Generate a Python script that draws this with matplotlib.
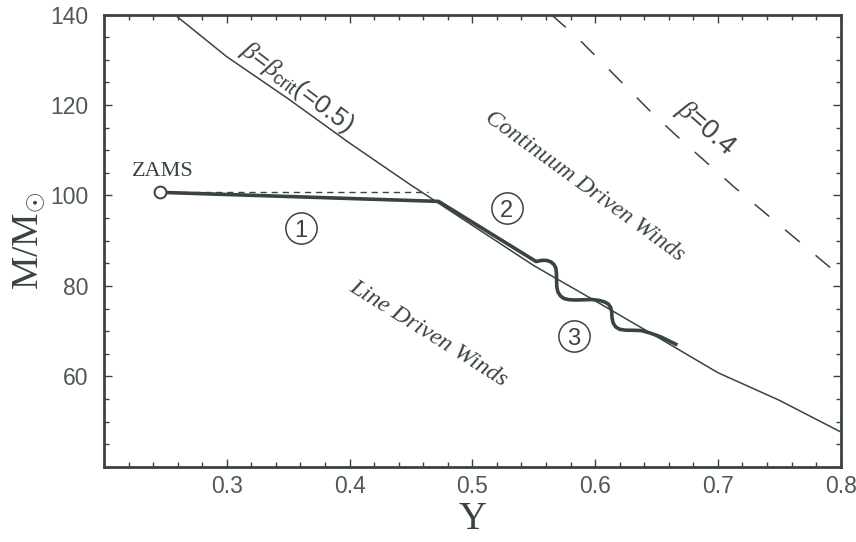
import numpy as np
import matplotlib
matplotlib.use("Agg")
import matplotlib.pyplot as plt

plt.rcParams['font.family'] = ['Liberation Sans', 'DejaVu Sans']
plt.rcParams['mathtext.fontset'] = 'custom'
plt.rcParams['mathtext.rm'] = 'Liberation Sans'
plt.rcParams['mathtext.it'] = 'Liberation Serif:italic'
plt.rcParams['mathtext.bf'] = 'Liberation Sans:bold'

# beta = beta_crit boundary
crit_Y = [0.2576, 0.30, 0.35, 0.40, 0.45, 0.50, 0.55, 0.60, 0.65, 0.70, 0.75, 0.80]
crit_M = [140.0, 130.7, 121.4, 111.6, 102.3, 93.4, 84.5, 76.7, 68.8, 60.8, 54.7, 47.7]

# beta = 0.4 line
b04_Y = [0.5644, 0.586, 0.648, 0.670, 0.7144, 0.797, 0.80]
b04_M = [140.0, 134.8, 117.8, 112.3, 101.6, 82.8, 82.0]

# evolutionary track (phases 1-3)
track_Y = [0.2454, 0.4725, 0.5519, 0.5568, 0.5608, 0.5641, 0.5665, 0.5680, 0.5685,
           0.5686, 0.5688, 0.5697, 0.5718, 0.5746, 0.5787, 0.5843, 0.5908, 0.5973,
           0.6030, 0.6074, 0.6107, 0.6127, 0.6135, 0.6138, 0.6147, 0.6168, 0.6200,
           0.6249, 0.6313, 0.6378, 0.6451, 0.6532, 0.6670]
track_M = [100.7, 98.7, 85.40, 85.66, 85.62, 85.29, 84.73, 83.96, 82.85,
           81.30, 79.76, 78.65, 77.77, 77.21, 76.95, 76.88, 76.93, 76.99,
           76.81, 76.48, 76.00, 75.22, 74.23, 72.90, 71.79, 70.91, 70.40,
           70.20, 70.18, 70.11, 69.54, 68.76, 66.93]

zams_Y, zams_M = 0.2454, 100.7
ref_Y = [0.2454, 0.464]
ref_M = [100.7, 100.7]

phase_labels = ['1', '2', '3']
phase_Y = [0.3605, 0.5279, 0.5827]
phase_M = [92.8, 97.2, 68.9]

c = '#3a4343'
tc = '#4f5757'

fig = plt.figure(figsize=(8.56, 5.42), dpi=100)
ax = fig.add_axes([0.1215, 0.1389, 0.8606, 0.834])

ax.plot(crit_Y, crit_M, color=c, lw=1.1)
ax.plot(b04_Y, b04_M, color=c, lw=1.1, dashes=(12.5, 13.5))
ax.plot(ref_Y, ref_M, color=c, lw=1.0, dashes=(4.5, 3.5))
ax.plot(track_Y, track_M, color=c, lw=2.6, solid_joinstyle='round', solid_capstyle='butt')
ax.plot([zams_Y], [zams_M], 'o', ms=8.5, mfc='white', mec=c, mew=1.4, zorder=5)

for lab, x, y in zip(phase_labels, phase_Y, phase_M):
    ax.plot([x], [y], 'o', ms=22.5, mfc='none', mec=c, mew=1.1)
    ax.text(x, y, lab, ha='center', va='center_baseline', fontsize=17, color=c)

serif = 'Liberation Serif'
ax.text(0.2482, 105.3, 'ZAMS', family=serif, fontsize=16, color=c, ha='center', va='center')
ax.text(0.357, 124.0, r'$\beta$=$\beta_{\mathrm{crit}}$(=0.5)', fontsize=18.5, color=c,
        rotation=-37, ha='center', va='center', rotation_mode='anchor')
ax.text(0.6897, 114.9, r'$\beta$=0.4', fontsize=19.5, color=c,
        rotation=-41, ha='center', va='center', rotation_mode='anchor')
ax.text(0.5913, 102.0, 'Continuum Driven Winds', family=serif, style='italic',
        fontsize=17, color=c, rotation=-36, ha='center', va='center', rotation_mode='anchor')
ax.text(0.4643, 69.5, 'Line Driven Winds', family=serif, style='italic',
        fontsize=17.5, color=c, rotation=-32, ha='center', va='center', rotation_mode='anchor')

ax.set_xlim(0.2, 0.8)
ax.set_ylim(40, 140)
ax.set_xticks([0.3, 0.4, 0.5, 0.6, 0.7, 0.8])
ax.set_xticklabels(['0.3', '0.4', '0.5', '0.6', '0.7', '0.8'])
ax.set_xticks(np.arange(0.2, 0.801, 0.02), minor=True)
ax.set_yticks([60, 80, 100, 120, 140])
ax.set_yticks(np.arange(40, 141, 5), minor=True)

for s in ax.spines.values():
    s.set_linewidth(2.0)
    s.set_color(c)
ax.tick_params(which='both', direction='in', top=True, right=True, color=c, width=1.0)
ax.tick_params(which='major', length=5.5, labelsize=16.5, labelcolor=tc)
ax.tick_params(which='minor', length=3.5)
ax.tick_params(axis='x', which='major', pad=6)
ax.tick_params(axis='y', which='major', pad=11)

ax.set_xlabel('Y', family=serif, fontsize=28, color=c)
ax.set_ylabel(r'M/M$_{\odot}$', family=serif, fontsize=27, color=c)
ax.xaxis.set_label_coords(0.5, -0.075)
ax.yaxis.set_label_coords(-0.078, 0.5)
ax.xaxis.label.set_va('top')

fig.savefig('out.png', dpi=100)
